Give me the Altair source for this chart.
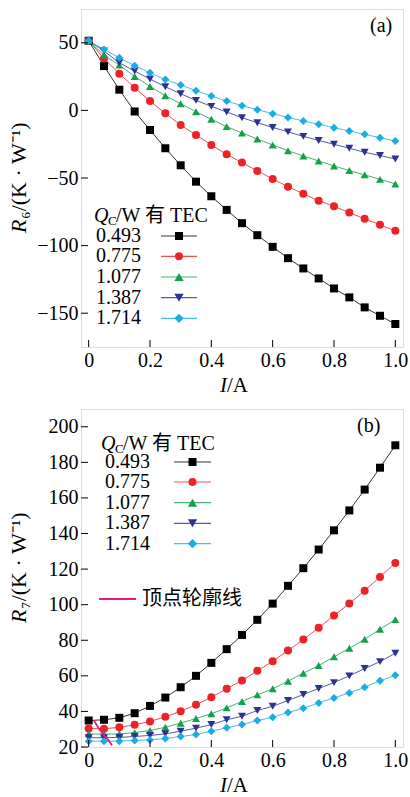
import altair as alt
import pandas as pd

# ---------------- data ----------------
I_vals = [0.0, 0.05, 0.1, 0.15, 0.2, 0.25, 0.3, 0.35, 0.4, 0.45, 0.5,
          0.55, 0.6, 0.65, 0.7, 0.75, 0.8, 0.85, 0.9, 0.95, 1.0]

series_labels = ["0.493", "0.775", "1.077", "1.387", "1.714"]

# panel (a): R6
a_0493 = [51.5, 32.8, 15.3, -0.8, -14.5, -28.0, -40.6, -52.7, -63.5, -73.6, -83.4,
          -92.3, -100.9, -109.3, -116.9, -124.3, -131.7, -138.3, -145.7, -151.9, -158.0]
a_0775 = [51.5, 38.4, 27.1, 16.8, 6.9, -2.2, -10.8, -18.2, -25.6, -32.5, -38.6,
          -44.8, -50.7, -56.4, -61.7, -66.8, -70.9, -75.6, -80.2, -84.6, -89.1]
a_1077 = [51.5, 40.9, 33.5, 25.1, 17.7, 10.9, 4.9, -1.0, -6.6, -12.0, -16.7,
          -21.1, -25.6, -29.8, -33.7, -37.4, -41.1, -44.5, -47.7, -51.0, -54.4]
a_1387 = [51.5, 43.9, 35.2, 29.1, 23.2, 17.5, 12.3, 7.4, 3.0, -1.2, -5.4,
          -9.1, -12.6, -15.9, -19.2, -22.2, -25.1, -28.0, -31.0, -33.4, -35.9]
a_1714 = [51.5, 45.1, 38.9, 33.0, 27.8, 22.9, 18.8, 14.6, 10.6, 6.9, 3.5,
          0.5, -2.4, -5.2, -7.8, -10.3, -12.8, -15.2, -17.7, -20.2, -22.6]

# panel (b): R7
b_0493 = [34.9, 35.3, 36.4, 39.0, 43.1, 47.8, 53.6, 60.0, 67.3, 75.0, 83.0,
          91.5, 100.6, 110.6, 120.5, 131.0, 141.8, 153.0, 164.7, 177.0, 189.6]
b_0775 = [30.4, 30.2, 31.1, 32.5, 34.3, 37.0, 40.1, 43.7, 48.0, 52.7, 57.4,
          62.8, 68.2, 74.2, 80.4, 87.0, 93.9, 100.6, 107.9, 115.6, 123.5]
b_1077 = [27.4, 27.2, 27.4, 28.1, 29.3, 31.1, 33.4, 36.0, 38.7, 42.0, 45.6,
          49.3, 52.7, 57.0, 61.5, 65.8, 70.7, 75.5, 80.6, 86.2, 91.6]
b_1387 = [25.2, 25.2, 25.4, 25.9, 26.5, 27.4, 28.9, 30.6, 32.6, 35.3, 37.3,
          40.5, 42.9, 46.1, 49.5, 52.9, 56.2, 60.0, 64.1, 68.0, 72.7]
b_1714 = [23.3, 23.3, 23.3, 23.7, 24.0, 24.8, 25.9, 27.0, 28.9, 30.8, 32.6,
          34.9, 36.7, 39.4, 41.8, 44.8, 47.6, 50.4, 53.6, 57.2, 60.3]

# vertex contour line in panel (b)
contour_I = [0.017, 0.034, 0.05, 0.065, 0.076]
contour_R = [34.9, 30.2, 26.5, 23.7, 21.0]

x_ticks = [0.0, 0.2, 0.4, 0.6, 0.8, 1.0]
ya_ticks = [50, 0, -50, -100, -150]
yb_ticks = [20, 40, 60, 80, 100, 120, 140, 160, 180, 200]

# ---------------- styles ----------------
colors = ["#000000", "#ec2227", "#15a04b", "#2e3192", "#19ade3"]
shapes = ["square", "circle", "triangle-up", "triangle-down", "diamond"]
sizes = [64, 64, 85, 85, 85]
FONT = "'Liberation Serif', 'Noto Sans CJK SC'"
W, H = 322, 338
FS = 20

one = pd.DataFrame({"k": [0]})


def long_df(series):
    rows = []
    for lab, vals in zip(series_labels, series):
        for i, v in zip(I_vals, vals):
            rows.append({"I": i, "R": v, "Q": lab})
    return pd.DataFrame(rows)


def txt(s, x, y, size=FS, align="left", style="normal", color="black", angle=0):
    return alt.Chart(one).mark_text(
        text=s, font=FONT, fontSize=size, align=align, baseline="middle",
        fontStyle=style, color=color, angle=angle
    ).encode(x=alt.value(x), y=alt.value(y))


def panel(series, ydom, yticks, sub, ty, tag, tagx, lg):
    df = long_df(series)
    xs = alt.Scale(domain=[-0.025, 1.025], nice=False, zero=False)
    ys = alt.Scale(domain=ydom, nice=False, zero=False)
    cs = alt.Scale(domain=series_labels, range=colors)
    ss = alt.Scale(domain=series_labels, range=shapes)
    x = alt.X("I:Q", scale=xs, axis=alt.Axis(
        values=x_ticks, title=None, ticks=False, domain=False, grid=False,
        labelExpr="datum.value == 0 ? '0' : format(datum.value, '.1f')",
        labelFont=FONT, labelFontSize=FS, labelPadding=3, labelColor="black"))
    y = alt.Y("R:Q", scale=ys, axis=alt.Axis(
        values=yticks, title=None, ticks=False, domain=False, grid=False,
        labelFont=FONT, labelFontSize=FS, labelPadding=3, labelColor="black"))
    base = alt.Chart(df)
    lines = base.mark_line(strokeWidth=1, opacity=0.8).encode(
        x=x, y=y, color=alt.Color("Q:N", scale=cs, legend=None), detail="Q:N")
    pts = base.mark_point(filled=True, opacity=1).encode(
        x=x, y=y,
        color=alt.Color("Q:N", scale=cs, legend=None),
        shape=alt.Shape("Q:N", scale=ss, legend=None),
        size=alt.Size("Q:N", scale=alt.Scale(domain=series_labels, range=sizes), legend=None))
    xt = alt.Chart(pd.DataFrame({"I": x_ticks})).mark_rule(color="black", strokeWidth=1).encode(
        x=x, y=alt.value(H), y2=alt.value(H - 7))
    yt = alt.Chart(pd.DataFrame({"R": yticks})).mark_rule(color="black", strokeWidth=1).encode(
        y=y, x=alt.value(0), x2=alt.value(7))
    layers = [lines, pts, xt, yt, txt(tag, tagx, 17, size=FS)]
    # axis titles (italic symbol + upright unit)
    layers.append(txt("I", 139, H + 39, size=21, style="italic"))
    layers.append(txt("/A", 146, H + 39, size=21))
    layers.append(txt("R", -62, ty, size=22, style="italic", angle=270))
    layers.append(txt(sub + "/(K · W⁻¹)", -62, ty - 14, size=22, angle=270))
    # legend header Q_C/W 有 TEC
    hx, hy, lx, linex0, linex1, rows_y = lg
    layers.append(txt("Q", hx, hy, style="italic"))
    layers.append(txt("C", hx + 14, hy + 5, size=13))
    layers.append(txt("/W 有 TEC", hx + 22, hy))
    for k, lab in enumerate(series_labels):
        ry = rows_y[k]
        layers.append(txt(lab, lx, ry))
        layers.append(alt.Chart(one).mark_rule(color=colors[k], strokeWidth=1.2, opacity=0.8).encode(
            x=alt.value(linex0), x2=alt.value(linex1), y=alt.value(ry)))
        layers.append(alt.Chart(one).mark_point(
            filled=True, opacity=1, color=colors[k], shape=shapes[k], size=sizes[k]).encode(
            x=alt.value((linex0 + linex1) / 2), y=alt.value(ry)))
    return layers, x, y


la, _, _ = panel([a_0493, a_0775, a_1077, a_1387, a_1714], [-175, 75], ya_ticks,
                 "₆", 224, "(a)", 289,
                 (13, 207, 15, 80, 116, [227, 247.3, 268, 288.7, 309.3]))
lb, xb, yb = panel([b_0493, b_0775, b_1077, b_1387, b_1714], [20, 210], yb_ticks,
                   "₇", 214, "(b)", 276,
                   (20, 35, 24, 93, 130, [53, 73, 93.7, 114.3, 134.7]))

cdf = pd.DataFrame({"I": contour_I, "R": contour_R})
contour = alt.Chart(cdf).mark_line(color="#e6197a", strokeWidth=1.8).encode(x=xb, y=yb)
lb.append(contour)
lb.append(alt.Chart(one).mark_rule(color="#e6197a", strokeWidth=2).encode(
    x=alt.value(18), x2=alt.value(55), y=alt.value(190)))
lb.append(txt("顶点轮廓线", 61, 190))

pa = alt.layer(*la).properties(width=W, height=H)
pb = alt.layer(*lb).properties(width=W, height=H)

chart = alt.vconcat(pa, pb, spacing=62, bounds="flush").properties(
    padding={"left": 7, "top": 8, "right": 0, "bottom": 0},
).configure_view(stroke="black", strokeWidth=1.5).configure(background="white")

chart.save("out.html", embed_options={"renderer": "svg", "actions": False})
